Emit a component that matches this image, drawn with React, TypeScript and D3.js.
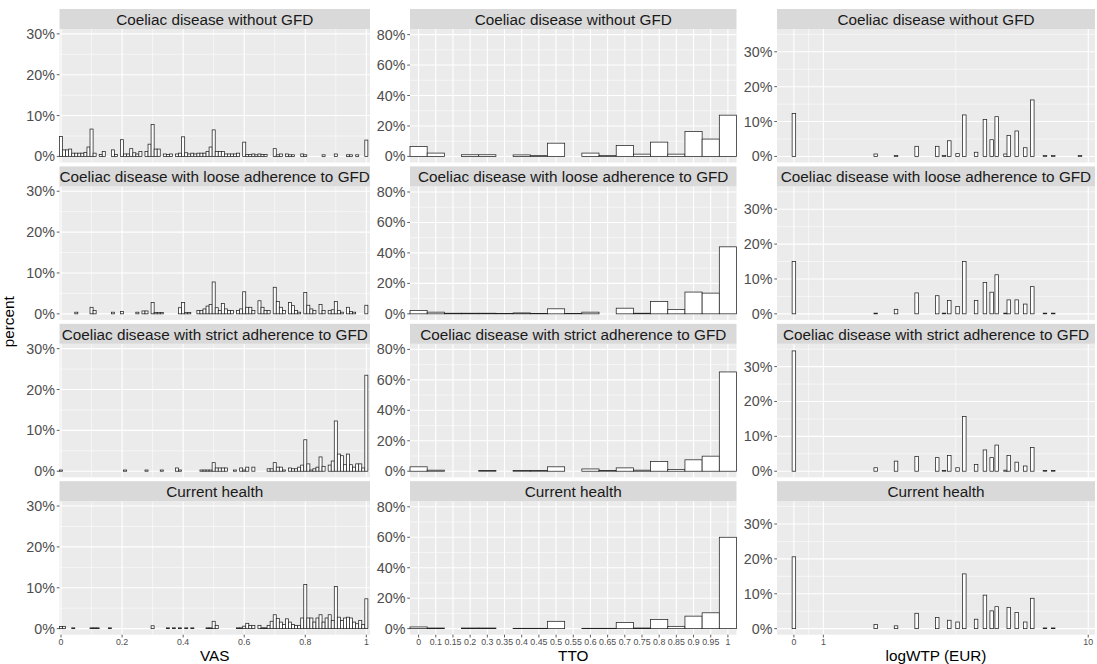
import React from "react";
import * as d3 from "d3";

const W = 1097;
const H = 664;
const FONT = "'Liberation Sans', Arial, Helvetica, sans-serif";

const facets = [
  "Coeliac disease without GFD",
  "Coeliac disease with loose adherence to GFD",
  "Coeliac disease with strict adherence to GFD",
  "Current health",
];

// VAS: percent of respondents per 0.01 bin (bins 0, 0.01, ..., 1)
const VAS_BIN = 0.01;
const vasWithout = [
  4.9, 1.6, 1.6, 1.8, 0.8, 0.8, 0.8, 0.8, 1.0, 2.3,
  6.7, 0.8, 0, 0.5, 1.2, 0, 0, 1.6, 0.5, 0,
  4.1, 0.6, 0.6, 1.9, 0.9, 0.6, 1.2, 0, 1.2, 3.0,
  7.8, 1.8, 1.8, 0, 0.6, 0.5, 0.6, 0, 0.6, 0.8,
  4.8, 0.9, 0.6, 0.8, 0.6, 0.8, 0.8, 0.8, 1.2, 2.3,
  6.5, 1.2, 1.2, 1.2, 0.6, 0.6, 0.6, 0.6, 0.8, 0,
  3.5, 0.5, 0.5, 0.6, 0.4, 0.6, 0.5, 0.5, 0, 0,
  1.9, 0.4, 0.6, 0, 0.6, 0.4, 0.4, 0, 0, 0.6,
  0.4, 0, 0, 0, 0, 0, 0.4, 0, 0, 0,
  0.6, 0, 0, 0, 0.4, 0.4, 0, 0.4, 0, 0,
  4.0,
];
const vasLoose = [
  0, 0, 0, 0, 0, 0.4, 0, 0, 0, 0,
  1.6, 0.8, 0, 0, 0, 0, 0, 0.4, 0, 0,
  0.6, 0, 0, 0, 0, 0.4, 0, 0.7, 0.7, 0,
  2.8, 0.3, 0.3, 0.3, 0, 0, 0, 0, 0, 1.5,
  2.8, 0.3, 0.3, 0, 0, 0.8, 0.8, 1.2, 1.9, 2.3,
  7.8, 1.5, 0.8, 2.5, 1.2, 0.8, 0.8, 0, 0.8, 1.2,
  5.4, 1.6, 1.6, 0.8, 0, 3.2, 1.6, 0.8, 0.8, 0,
  6.5, 3.0, 1.6, 0.8, 0, 2.8, 2.0, 0.8, 0.4, 0,
  5.2, 2.1, 1.2, 0.8, 0, 2.3, 0.8, 0, 0.8, 1.0,
  3.0, 0.8, 0.4, 0, 1.6, 0.6, 0.4, 0, 0, 0,
  2.1,
];
const vasStrict = [
  0.3, 0, 0, 0, 0, 0, 0, 0, 0, 0,
  0, 0, 0, 0, 0, 0, 0, 0, 0, 0,
  0, 0.3, 0, 0, 0, 0, 0, 0, 0.3, 0,
  0, 0, 0, 0.3, 0, 0, 0, 0, 0.8, 0.3,
  0, 0, 0, 0, 0, 0, 0.3, 0.3, 0.3, 0.3,
  2.1, 0.8, 0.8, 0.8, 0.8, 0, 0, 0.3, 0, 0.8,
  0.3, 1.0, 0, 1.0, 0, 0, 0, 0, 0.6, 0.6,
  2.1, 1.0, 1.0, 0.3, 0, 0.8, 0.6, 0.6, 1.0, 1.5,
  7.7, 1.8, 0.3, 0.6, 1.0, 3.5, 1.2, 0, 1.5, 2.5,
  12.3, 4.2, 3.8, 1.6, 4.2, 1.6, 1.0, 1.8, 1.8, 0.8,
  23.5,
];
const vasCurrent = [
  0.5, 0.5, 0, 0, 0.2, 0, 0, 0, 0, 0,
  0.2, 0.2, 0.2, 0, 0, 0, 0.2, 0, 0, 0,
  0, 0, 0, 0, 0, 0, 0, 0, 0, 0,
  0.7, 0, 0, 0, 0, 0.2, 0, 0.2, 0, 0.2,
  0, 0.2, 0, 0.2, 0, 0, 0, 0, 0.2, 0.2,
  1.8, 0.8, 0, 0, 0, 0, 0, 0, 0.2, 0.2,
  0.6, 1.3, 0.8, 0.8, 0, 0.8, 0.2, 0.2, 0.8, 1.8,
  3.4, 2.5, 1.6, 1.0, 2.4, 1.6, 1.0, 0.8, 0.8, 2.6,
  10.8, 2.6, 2.6, 1.6, 2.6, 3.4, 1.6, 2.6, 3.4, 2.0,
  10.3, 2.8, 2.0, 2.6, 2.8, 2.6, 1.6, 1.2, 2.0, 1.0,
  7.3,
];
const vasSeries = [vasWithout, vasLoose, vasStrict, vasCurrent];
const vasTicks = [0, 0.2, 0.4, 0.6, 0.8, 1];
const vasMinor = [0.1, 0.3, 0.5, 0.7, 0.9];

// TTO: discrete answers
const ttoLevels = [
  "0", "0.1", "0.15", "0.2", "0.3", "0.35", "0.4", "0.45", "0.5", "0.55",
  "0.6", "0.65", "0.7", "0.75", "0.8", "0.85", "0.9", "0.95", "1",
];
const ttoWithout = [6.6, 2.2, 0, 1.1, 1.1, 0, 1.0, 0.6, 8.7, 0, 2.2, 0.6, 7.2, 1.5, 9.4, 1.5, 16.4, 11.4, 27.1];
const ttoLoose = [2.2, 1.1, 0.4, 0.4, 0.4, 0.3, 0.6, 0.3, 3.3, 0.3, 1.1, 0, 3.7, 0.4, 8.1, 2.9, 14.3, 13.6, 44.0];
const ttoStrict = [2.9, 0.7, 0, 0, 0.5, 0, 0.5, 0.5, 2.9, 0, 1.5, 0.5, 2.2, 0.7, 6.4, 1.1, 7.5, 9.9, 65.2];
const ttoCurrent = [1.1, 0.4, 0, 0.4, 0.4, 0, 0.2, 0.2, 4.8, 0, 0.2, 0.2, 4.0, 0.4, 6.0, 1.5, 8.2, 10.4, 60.0];
const ttoSeries = [ttoWithout, ttoLoose, ttoStrict, ttoCurrent];

// logWTP: observed values and percent at each
const WTP_BIN = 0.12;
const wtpValues = [0, 2.78, 3.47, 4.17, 4.87, 5.1, 5.28, 5.56, 5.79, 6.19, 6.49, 6.72, 6.89, 7.19, 7.3, 7.57, 7.86, 8.1, 8.53, 8.81, 9.72];
const wtpWithout = [12.3, 0.7, 0.3, 2.9, 2.9, 0.3, 4.5, 0.8, 11.9, 1.2, 10.6, 4.8, 11.4, 0.7, 6.0, 7.3, 2.5, 16.2, 0.3, 0.3, 0.3];
const wtpLoose = [15.0, 0.2, 1.3, 6.0, 5.2, 0.2, 3.8, 2.1, 15.0, 3.8, 9.0, 6.2, 11.2, 0.2, 4.0, 4.0, 2.8, 7.8, 0.2, 0.2, 0];
const wtpStrict = [34.5, 1.0, 2.9, 4.2, 3.9, 0.2, 4.5, 1.0, 15.7, 1.9, 6.1, 3.9, 7.5, 0.3, 4.5, 2.6, 1.5, 6.8, 0.2, 0.2, 0];
const wtpCurrent = [20.6, 1.2, 0.8, 4.4, 3.2, 0, 2.4, 1.9, 15.7, 2.7, 9.6, 5.1, 6.3, 0, 6.1, 4.6, 1.9, 8.7, 0.2, 0.2, 0];
const wtpSeries = [wtpWithout, wtpLoose, wtpStrict, wtpCurrent];
const wtpTicks = [0, 1, 10];
const wtpMinor = [0.5, 5.5];

// layout
const STRIP_TOP = 9;
const STRIP_H = 20;
const PANEL_H = 133.5;
const ROW_STEP = 157.4;
const COLS = [
  { x0: 59.5, x1: 370, title: "VAS" },
  { x0: 410, x1: 736.5, title: "TTO" },
  { x0: 777, x1: 1095, title: "logWTP (EUR)" },
];
const Y_MAX = [29.7, 79.7, 34.8];
const Y_TICKS = [[0, 10, 20, 30], [0, 20, 40, 60, 80], [0, 10, 20, 30]];
const Y_MINOR = [[5, 15, 25], [10, 30, 50, 70], [5, 15, 25, 35]];

const vasX = d3.scaleLinear().domain([-0.005, 1.012]).range([COLS[0].x0, COLS[0].x1]);
const ttoX = d3.scaleBand().domain(ttoLevels).range([COLS[1].x0, COLS[1].x1]).padding(0);
const wtpX = d3.scaleLinear().domain([-0.574, 10.23]).range([COLS[2].x0, COLS[2].x1]);

const TICK_LEN = 2.75;
const AXIS_GREY = "#4D4D4D";

type Bar = { x: number; w: number; v: number };

function barsFor(col: number, row: number): Bar[] {
  if (col === 0) {
    return vasSeries[row].map((v, i) => {
      const c = i * VAS_BIN;
      const xa = vasX(c - VAS_BIN / 2);
      return { x: xa, w: vasX(c + VAS_BIN / 2) - xa, v };
    });
  }
  if (col === 1) {
    return ttoSeries[row].map((v, i) => ({ x: ttoX(ttoLevels[i]) as number, w: ttoX.bandwidth(), v }));
  }
  return wtpSeries[row].map((v, i) => {
    const xa = wtpX(wtpValues[i] - WTP_BIN / 2);
    return { x: xa, w: wtpX(wtpValues[i] + WTP_BIN / 2) - xa, v };
  });
}

function xGrid(col: number) {
  if (col === 0) return { major: vasTicks.map((t) => vasX(t)), minor: vasMinor.map((t) => vasX(t)) };
  if (col === 1)
    return { major: ttoLevels.map((l) => (ttoX(l) as number) + ttoX.bandwidth() / 2), minor: [] as number[] };
  return { major: wtpTicks.map((t) => wtpX(t)), minor: wtpMinor.map((t) => wtpX(t)) };
}

function xTickLabels(col: number) {
  if (col === 0) return vasTicks.map((t) => ({ x: vasX(t), label: d3.format("~g")(t) }));
  if (col === 1) return ttoLevels.map((l) => ({ x: (ttoX(l) as number) + ttoX.bandwidth() / 2, label: l }));
  return wtpTicks.map((t) => ({ x: wtpX(t), label: String(t) }));
}

function Panel({ col, row }: { col: number; row: number }) {
  const { x0, x1 } = COLS[col];
  const stripTop = STRIP_TOP + row * ROW_STEP;
  const top = stripTop + STRIP_H;
  const bottom = top + PANEL_H;
  const M = Y_MAX[col];
  const y = d3.scaleLinear().domain([-0.05 * M, 1.05 * M]).range([bottom, top]);
  const grid = xGrid(col);
  const bars = barsFor(col, row).filter((b) => b.v > 0);
  const last = row === facets.length - 1;

  return (
    <g>
      <rect x={x0} y={top} width={x1 - x0} height={PANEL_H} fill="#EBEBEB" />
      {Y_MINOR[col].map((t) => (
        <line key={"ym" + t} x1={x0} x2={x1} y1={y(t)} y2={y(t)} stroke="#fff" strokeWidth={0.55} />
      ))}
      {grid.minor.map((px, i) => (
        <line key={"xm" + i} x1={px} x2={px} y1={top} y2={bottom} stroke="#fff" strokeWidth={0.55} />
      ))}
      {Y_TICKS[col].map((t) => (
        <line key={"yM" + t} x1={x0} x2={x1} y1={y(t)} y2={y(t)} stroke="#fff" strokeWidth={1.1} />
      ))}
      {grid.major.map((px, i) => (
        <line key={"xM" + i} x1={px} x2={px} y1={top} y2={bottom} stroke="#fff" strokeWidth={1.1} />
      ))}
      {bars.map((b, i) => (
        <rect
          key={"b" + i}
          x={b.x}
          y={y(b.v)}
          width={b.w}
          height={y(0) - y(b.v)}
          fill="#fff"
          stroke="#222"
          strokeWidth={0.75}
        />
      ))}
      {/* strip */}
      <rect x={x0} y={stripTop} width={x1 - x0} height={STRIP_H} fill="#D9D9D9" />
      <text
        x={(x0 + x1) / 2}
        y={stripTop + STRIP_H / 2 + 0.5}
        textAnchor="middle"
        dominantBaseline="central"
        fontSize={15.3}
        fill="#1A1A1A"
      >
        {facets[row]}
      </text>
      {/* y axis */}
      {Y_TICKS[col].map((t) => (
        <g key={"yt" + t}>
          <line x1={x0 - TICK_LEN} x2={x0} y1={y(t)} y2={y(t)} stroke="#333" strokeWidth={0.8} />
          <text
            x={x0 - TICK_LEN - 1.8}
            y={y(t)}
            textAnchor="end"
            dominantBaseline="central"
            fontSize={14.3}
            fill={AXIS_GREY}
          >
            {t + "%"}
          </text>
        </g>
      ))}
      {/* x axis (bottom row only) */}
      {last &&
        xTickLabels(col).map((t, i) => (
          <g key={"xt" + i}>
            <line x1={t.x} x2={t.x} y1={bottom} y2={bottom + TICK_LEN} stroke="#333" strokeWidth={0.8} />
            <text x={t.x} y={bottom + TICK_LEN + 1.5} textAnchor="middle" dominantBaseline="hanging" fontSize={8.8} fill={AXIS_GREY}>
              {t.label}
            </text>
          </g>
        ))}
    </g>
  );
}

export default function App() {
  const lastBottom = STRIP_TOP + 3 * ROW_STEP + STRIP_H + PANEL_H;
  return (
    <svg
      width={W}
      height={H}
      viewBox={`0 0 ${W} ${H}`}
      style={{ position: "absolute", left: 0, top: 0, background: "#fff" }}
      fontFamily={FONT}
    >
      <rect width={W} height={H} fill="#fff" />
      {COLS.map((c, ci) =>
        facets.map((f, ri) => <Panel key={ci + "-" + ri} col={ci} row={ri} />)
      )}
      {COLS.map((c) => (
        <text
          key={c.title}
          x={(c.x0 + c.x1) / 2}
          y={lastBottom + 21}
          textAnchor="middle"
          dominantBaseline="central"
          fontSize={15.3}
          fill="#000"
        >
          {c.title}
        </text>
      ))}
      <text
        transform={`translate(8.5, ${(STRIP_TOP + lastBottom) / 2}) rotate(-90)`}
        textAnchor="middle"
        dominantBaseline="central"
        fontSize={15.3}
        fill="#000"
      >
        percent
      </text>
    </svg>
  );
}
